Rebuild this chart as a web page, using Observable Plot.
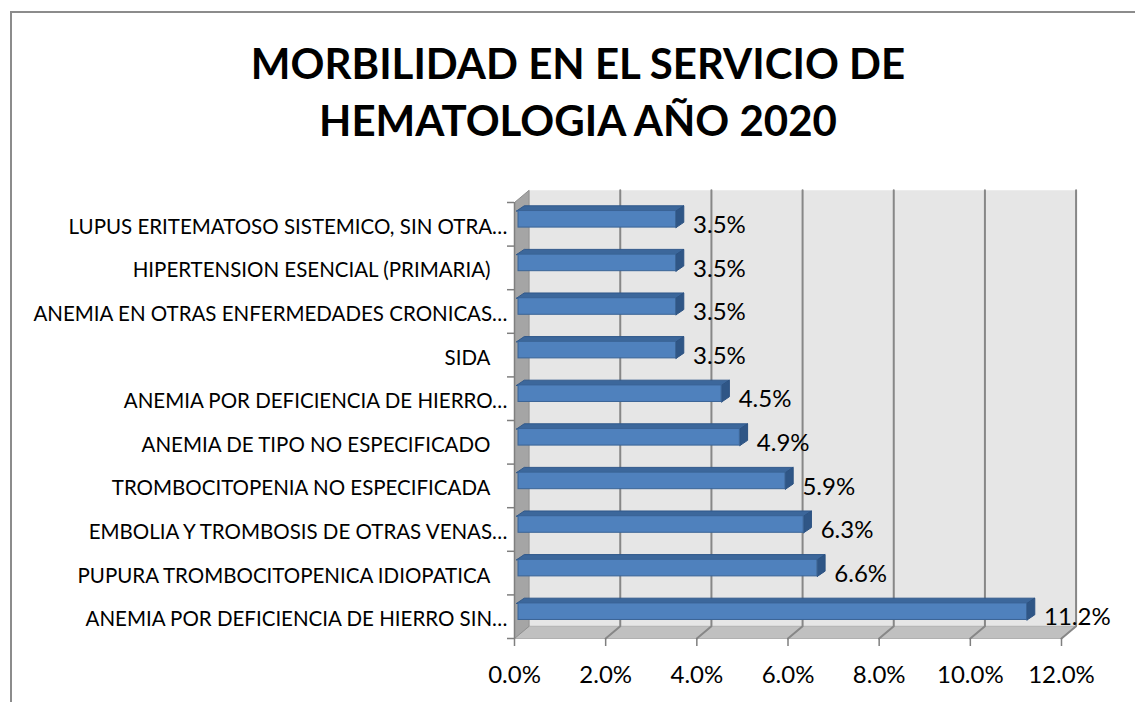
<!DOCTYPE html>
<html>
<head>
<meta charset="utf-8">
<script src="https://cdn.jsdelivr.net/npm/d3@7"></script>
<script src="https://cdn.jsdelivr.net/npm/@observablehq/plot@0.6"></script>
<style>
  body { margin: 0; background: #fff; }
  #wrap { position: relative; width: 1135px; height: 702px; overflow: hidden; font-family: Lato, "Open Sans", sans-serif; }
  #frame { position: absolute; left: 10px; top: 11px; width: 1300px; height: 900px; border-top: 2px solid #8c8c8c; border-left: 2px solid #8c8c8c; box-sizing: border-box; }
  #title { position: absolute; left: 0; top: 35px; width: 1156px; text-align: center; font-weight: bold; font-size: 42px; line-height: 57px; color: #000; }
  #chart { position: absolute; left: 0; top: 0; }
</style>
</head>
<body>
<div id="wrap">
  <div id="frame"></div>
  <div id="chart"></div>
  <div id="title">MORBILIDAD EN EL SERVICIO DE<br>HEMATOLOGIA AÑO 2020</div>
</div>
<script>
// Categories listed from bottom to top
const categories = [
  "ANEMIA POR DEFICIENCIA DE HIERRO SIN…",
  "PUPURA TROMBOCITOPENICA IDIOPATICA",
  "EMBOLIA Y TROMBOSIS DE OTRAS VENAS…",
  "TROMBOCITOPENIA NO ESPECIFICADA",
  "ANEMIA DE TIPO NO ESPECIFICADO",
  "ANEMIA POR DEFICIENCIA DE HIERRO…",
  "SIDA",
  "ANEMIA EN OTRAS ENFERMEDADES CRONICAS…",
  "HIPERTENSION ESENCIAL (PRIMARIA)",
  "LUPUS ERITEMATOSO SISTEMICO, SIN OTRA…"
];
const values = [11.2, 6.6, 6.3, 5.9, 4.9, 4.5, 3.5, 3.5, 3.5, 3.5]; // percent
const tickValues = [0, 2, 4, 6, 8, 10, 12];
const tickLabels = ["0.0%", "2.0%", "4.0%", "6.0%", "8.0%", "10.0%", "12.0%"];

const rows = categories.map((name, i) => ({name, value: values[i], i}));
const nCat = categories.length;
const xMax = tickValues[tickValues.length - 1];

// 3D depth (data units)
const DX = 0.32, DY = 0.28;    // wall depth
const BX = 0.17, BY = 0.12;    // bar depth
const H = 0.19;                // half bar height

const poly = (id, pts) => pts.map(([x, y]) => ({id, x, y}));
const backWall = poly("back", [[DX, DY], [xMax + DX, DY], [xMax + DX, nCat + DY], [DX, nCat + DY], [DX, DY]]);
const leftWall = poly("left", [[0, 0], [DX, DY], [DX, nCat + DY], [0, nCat], [0, 0]]);
const floor = poly("floor", [[0, 0], [xMax, 0], [xMax + DX, DY], [DX, DY], [0, 0]]);
const grid = tickValues.filter(t => t > 0).flatMap(t => poly("g" + t, [[t, 0], [t + DX, DY], [t + DX, nCat + DY]]));

const topFaces = rows.flatMap(d => {
  const y2 = d.i + 0.5 + H;
  return poly("t" + d.i, [[0, y2], [d.value, y2], [d.value + BX, y2 + BY], [BX, y2 + BY], [0, y2]]);
});
const capFaces = rows.flatMap(d => {
  const y1 = d.i + 0.5 - H, y2 = d.i + 0.5 + H;
  return poly("c" + d.i, [[d.value, y1], [d.value, y2], [d.value + BX, y2 + BY], [d.value + BX, y1 + BY], [d.value, y1]]);
});

const plot = Plot.plot({
  width: 1135,
  height: 702,
  marginLeft: 514,
  marginRight: 74,
  marginTop: 202,
  marginBottom: 64,
  x: {domain: [0, xMax], axis: null},
  y: {domain: [0, nCat], axis: null},
  style: {background: "transparent", fontFamily: "Lato, 'Open Sans', sans-serif", overflow: "visible"},
  marks: [
    Plot.line(backWall, {x: "x", y: "y", z: "id", fill: "#e6e6e6", stroke: "none"}),
    Plot.line(floor, {x: "x", y: "y", z: "id", fill: "#c0c0c0", stroke: "#b0b0b0", strokeWidth: 1}),
    Plot.line(leftWall, {x: "x", y: "y", z: "id", fill: "#a5a5a5", stroke: "#8f8f8f", strokeWidth: 1}),
    Plot.line(grid, {x: "x", y: "y", z: "id", stroke: "#878787", strokeWidth: 2}),
    Plot.ruleX([0], {y1: 0, y2: nCat, stroke: "#7f7f7f", strokeWidth: 1.5}),
    Plot.axisY({ticks: d3.range(0, nCat + 1), tickFormat: () => "", label: null, tickSize: 7, stroke: "#7f7f7f", strokeWidth: 1.5}),
    Plot.axisX({ticks: tickValues, tickFormat: (d) => tickLabels[tickValues.indexOf(d)], label: null, tickSize: 8, tickPadding: 19, fontSize: 24, stroke: "#7f7f7f", strokeWidth: 1.5, color: "#000"}),
    // bars
    Plot.line(topFaces, {x: "x", y: "y", z: "id", fill: "#3c679b", stroke: "#30588a", strokeWidth: 1, dx: 2, dy: -5}),
    Plot.line(capFaces, {x: "x", y: "y", z: "id", fill: "#2f5686", stroke: "#2c5282", strokeWidth: 1, dx: 2, dy: -5}),
    Plot.rect(rows, {x1: 0, x2: "value", y1: d => d.i + 0.5 - H, y2: d => d.i + 0.5 + H, fill: "#4f81bd", stroke: "#3a6496", strokeWidth: 1, dx: 2, dy: -5, insetLeft: 2}),
    // value labels
    Plot.text(rows, {x: "value", y: d => d.i + 0.5, text: d => d.value.toFixed(1) + "%", textAnchor: "start", dx: 19, dy: 1, fontSize: 24, fill: "#000"}),
    // category labels
    Plot.text(rows, {filter: d => d.name.endsWith("…"), x: 0, y: d => d.i + 0.5, text: "name", textAnchor: "end", dx: -7, dy: 3, fontSize: 20.5, fill: "#000"}),
    Plot.text(rows, {filter: d => !d.name.endsWith("…"), x: 0, y: d => d.i + 0.5, text: "name", textAnchor: "end", dx: -24, dy: 3, fontSize: 20.5, fill: "#000"})
  ]
});
document.getElementById("chart").appendChild(plot);
</script>
</body>
</html>
